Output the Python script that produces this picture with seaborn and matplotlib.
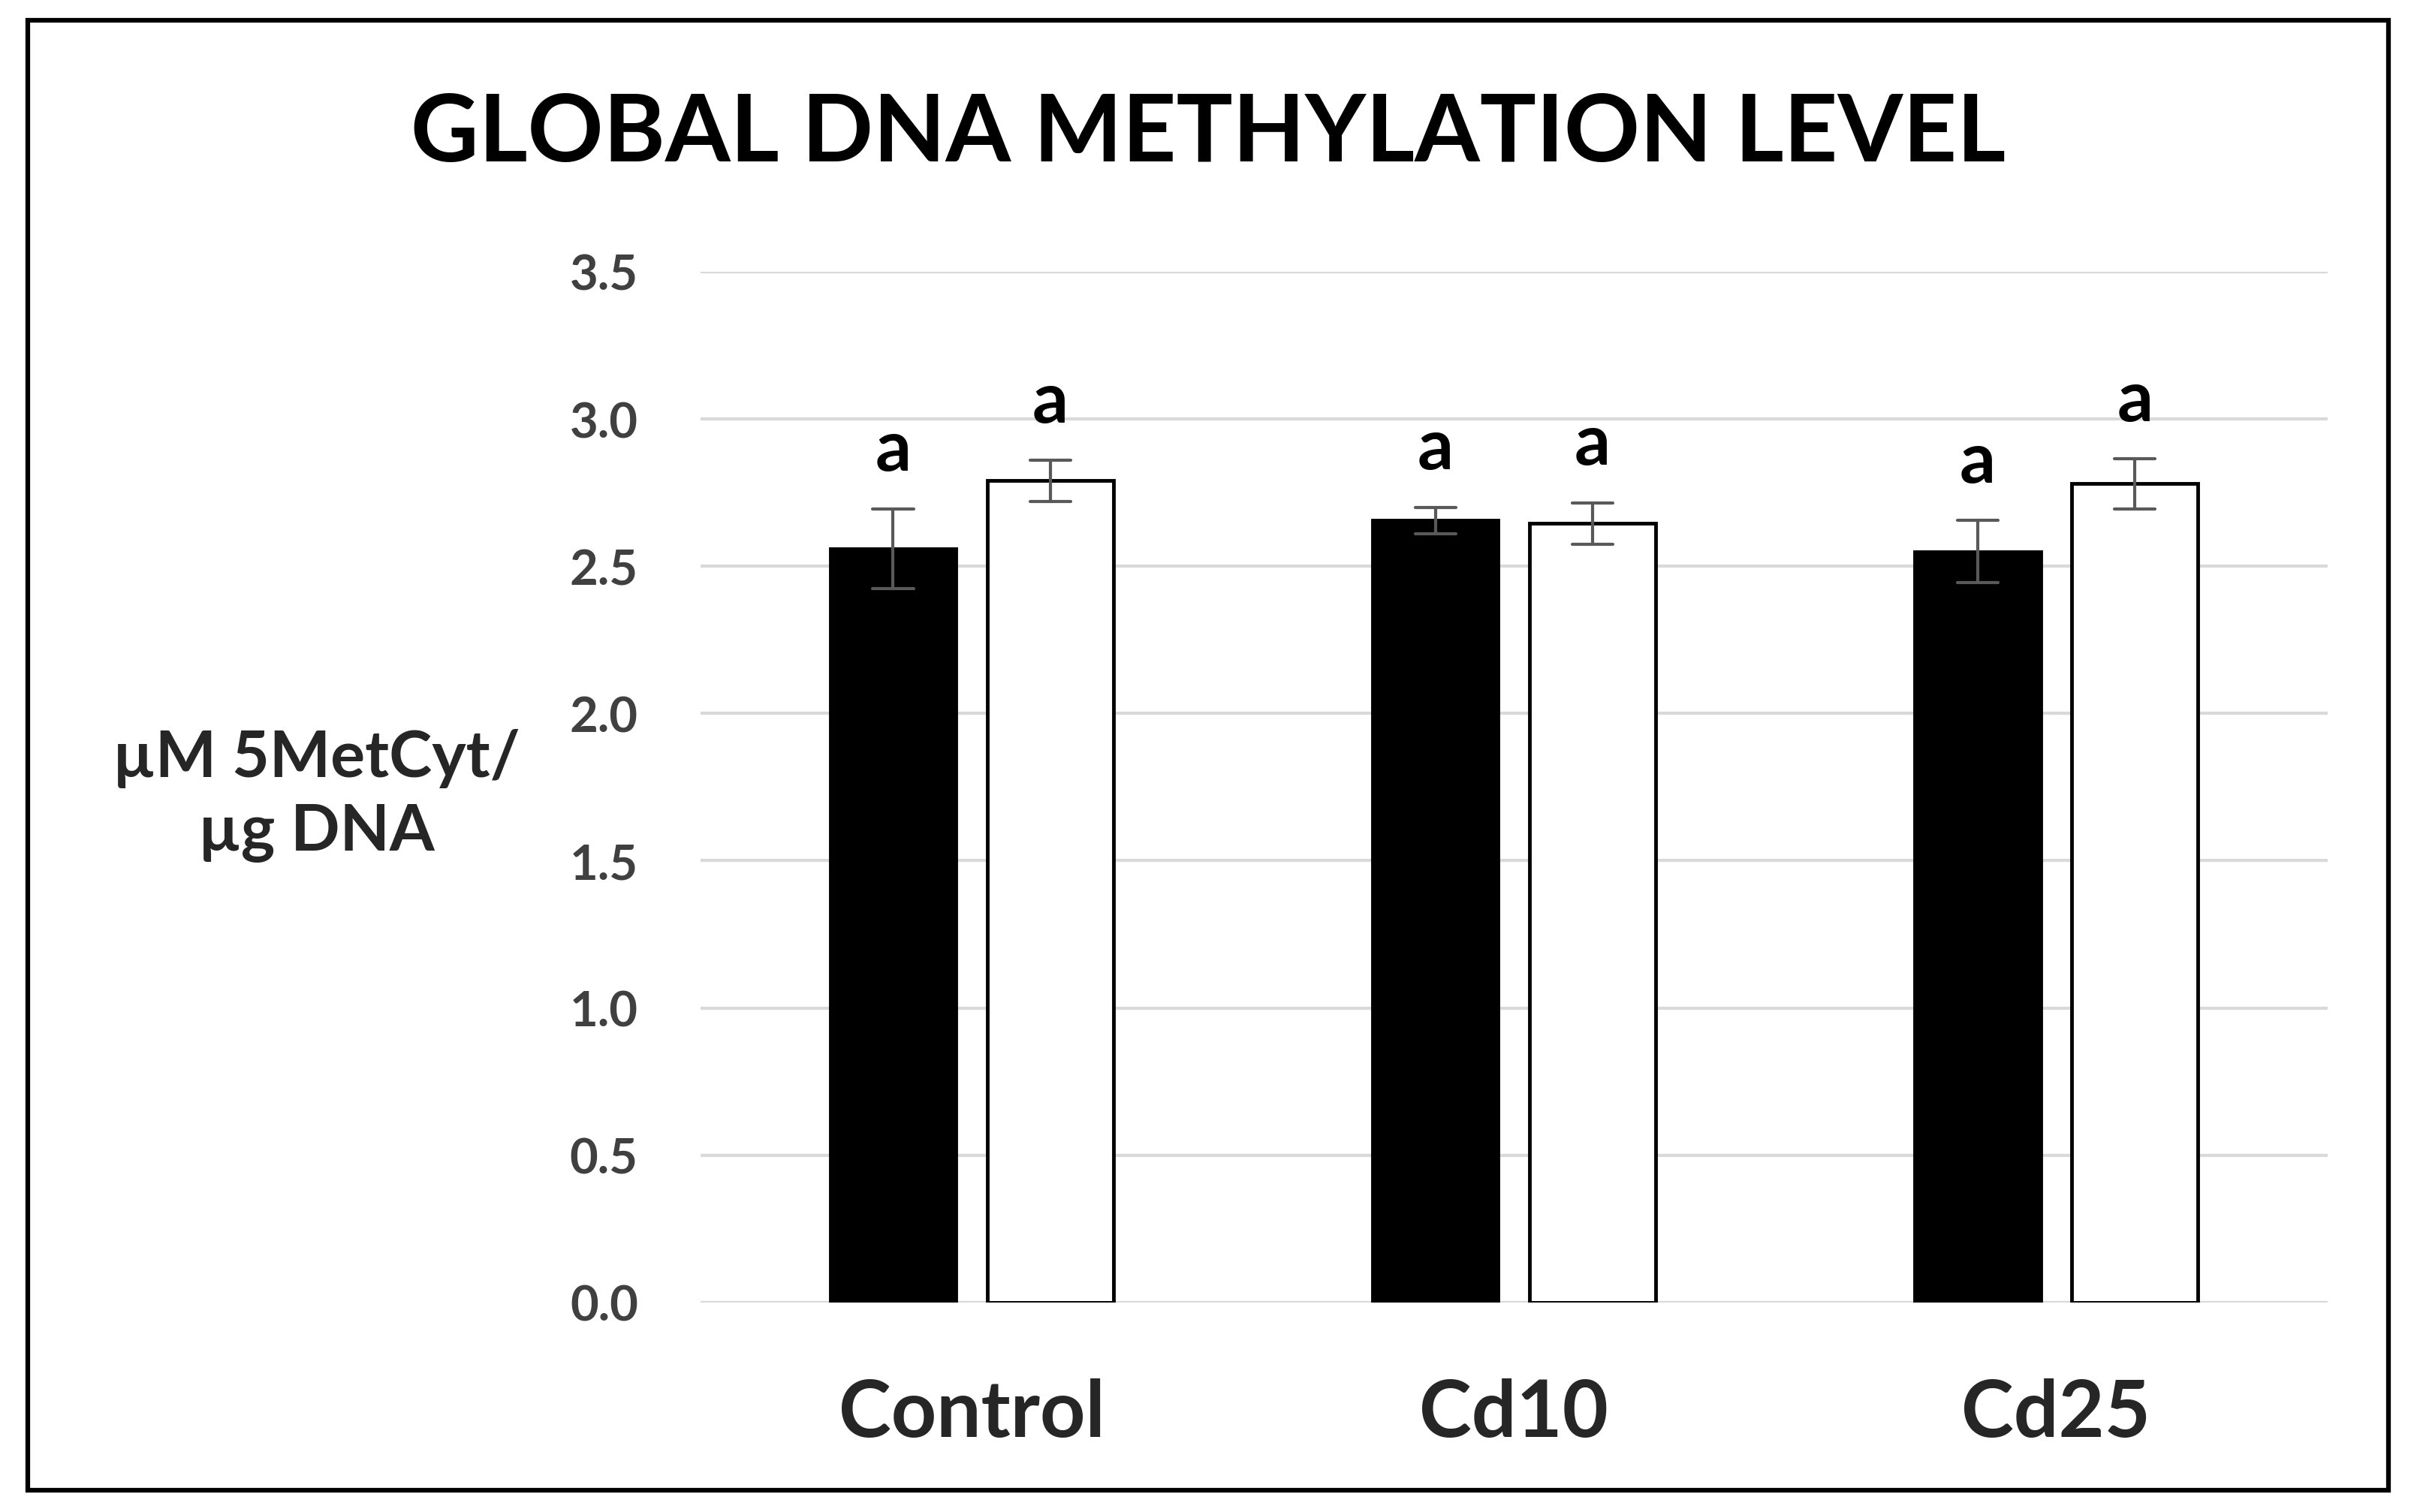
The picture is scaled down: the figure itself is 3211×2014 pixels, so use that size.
import seaborn as sns
import pandas as pd
from matplotlib import pyplot as plt
from matplotlib.patches import Rectangle

# values (mean, +/- error)
groups = ['Control', 'Cd10', 'Cd25']
series = ['A', 'B']
means_a = [2.56, 2.655, 2.55]
errs_a = [0.135, 0.045, 0.105]
means_b = [2.79, 2.645, 2.78]
errs_b = [0.07, 0.07, 0.085]
letters_a = ['a', 'a', 'a']
letters_b = ['a', 'a', 'a']

# three rows per bar (m-e, m, m+e) so seaborn gives the mean and the range as error bar
rows = []
for s, ms, es in [('A', means_a, errs_a), ('B', means_b, errs_b)]:
    for g, m, e in zip(groups, ms, es):
        for v in (m - e, m, m + e):
            rows.append({'group': g, 'series': s, 'value': v})
df = pd.DataFrame(rows)

sns.set_style('white')
plt.rcParams['font.family'] = ['Lato', 'DejaVu Sans']

fig = plt.figure(figsize=(32.12, 20.15), dpi=100)
ax = fig.add_axes([0.2905, 0.1385, 0.6745, 0.6814])

sns.barplot(data=df, x='group', y='value', hue='series', order=groups, hue_order=series,
            palette=['black', 'white'], edgecolor='black', linewidth=3.5,
            width=0.58, gap=0.2, estimator='mean',
            errorbar=lambda v: (v.min(), v.max()), capsize=0.15,
            err_kws={'color': '#595959', 'linewidth': 3}, legend=False, ax=ax)

# significance letters above each bar
tops = [m + e for m, e in zip(means_a, errs_a)] + [m + e for m, e in zip(means_b, errs_b)]
labs = letters_a + letters_b
for p, t, l in zip(ax.patches, tops, labs):
    ax.text(p.get_x() + p.get_width() / 2, t + 0.2, l, ha='center', va='center',
            fontsize=68, fontweight='bold', color='black')

ax.set_ylim(0, 3.5)
ax.set_xlim(-0.5, 2.5)
ax.set_yticks([0, 0.5, 1.0, 1.5, 2.0, 2.5, 3.0, 3.5])
ax.set_yticklabels([f'{v:.1f}' for v in ax.get_yticks()])
ax.yaxis.grid(True, color='#d9d9d9', linewidth=3)
ax.set_axisbelow(True)
for sp in ax.spines.values():
    sp.set_visible(False)
ax.tick_params(axis='y', length=0, pad=60, labelsize=47, labelcolor='#404040')
ax.tick_params(axis='x', length=0, pad=72, labelsize=76)
for t in ax.get_yticklabels():
    t.set_fontweight('bold')
for t in ax.get_xticklabels():
    t.set_fontweight('bold')

ax.set_xlabel('')
ax.set_ylabel('µM 5MetCyt/\nµg DNA', rotation=0, fontsize=62, fontweight='bold',
              ha='center', va='center', linespacing=1.3)
ax.yaxis.set_label_coords(-0.236, 0.492)

fig.text(0.501, 0.911, 'GLOBAL DNA METHYLATION LEVEL', ha='center', va='center',
         fontsize=90, fontweight='bold', color='black')

fig.patches.append(Rectangle((0.0115, 0.0145), 0.979, 0.9715, transform=fig.transFigure,
                             fill=False, edgecolor='black', linewidth=4.5))

fig.savefig('out.png', dpi=100, facecolor='white')
